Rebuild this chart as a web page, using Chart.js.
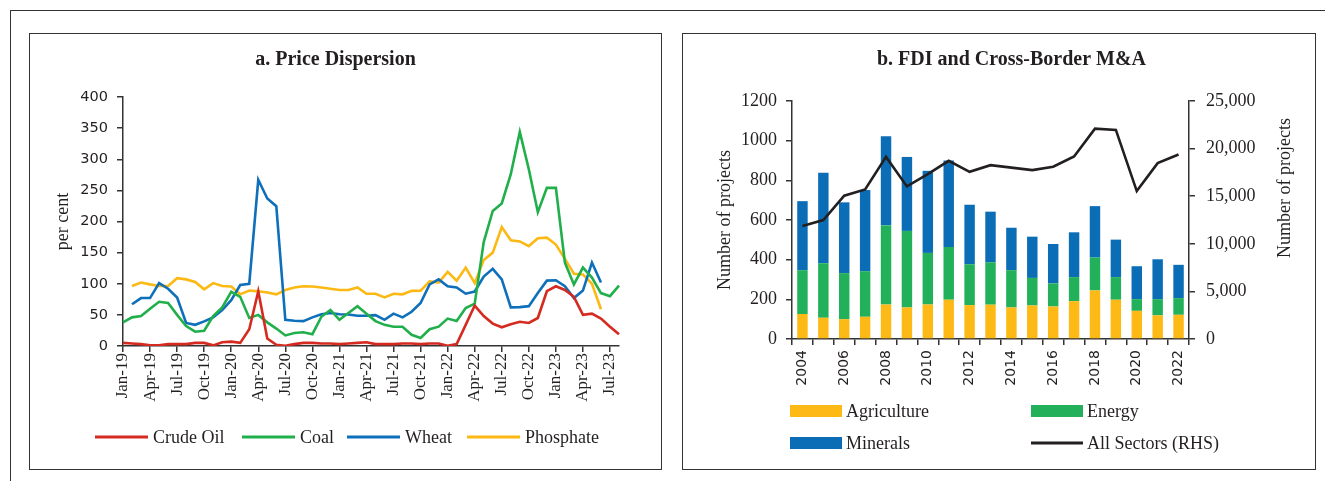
<!DOCTYPE html>
<html><head><meta charset="utf-8">
<script src="https://cdn.jsdelivr.net/npm/chart.js@4.4.0/dist/chart.umd.min.js"></script>
<style>
html,body{margin:0;padding:0;background:#fff;width:1325px;height:481px;overflow:hidden;}
#outer{position:absolute;left:10px;top:10px;width:1400px;height:600px;border:1.5px solid #333;box-sizing:border-box;}
.panel{position:absolute;top:33px;height:437px;border:1.5px solid #333;box-sizing:border-box;background:#fff;}
#pa{left:29px;width:633px;}
#pb{left:682px;width:634px;}
canvas{position:absolute;}
#ca{left:31px;top:35px;}
#cb{left:684px;top:35px;}
</style></head>
<body>
<div id="outer"></div>
<div class="panel" id="pa"></div>
<div class="panel" id="pb"></div>
<canvas id="ca" width="629" height="433"></canvas>
<canvas id="cb" width="630" height="433"></canvas>
<script>
// ---------- Panel a: Price Dispersion ----------
const months = ['Jan-19','Feb-19','Mar-19','Apr-19','May-19','Jun-19','Jul-19','Aug-19','Sep-19','Oct-19','Nov-19','Dec-19',
'Jan-20','Feb-20','Mar-20','Apr-20','May-20','Jun-20','Jul-20','Aug-20','Sep-20','Oct-20','Nov-20','Dec-20',
'Jan-21','Feb-21','Mar-21','Apr-21','May-21','Jun-21','Jul-21','Aug-21','Sep-21','Oct-21','Nov-21','Dec-21',
'Jan-22','Feb-22','Mar-22','Apr-22','May-22','Jun-22','Jul-22','Aug-22','Sep-22','Oct-22','Nov-22','Dec-22',
'Jan-23','Feb-23','Mar-23','Apr-23','May-23','Jun-23','Jul-23','Aug-23'];

const crudeOil = [5,4,3,1,1,3,3,3,5,5,1,6,7,5,27,88,12,2,0.5,3,5,5,4,4,3,
  4,5,6,3,3,3,4,4,3,4,4,0.5,3,34,65,48,36,30,35,39,37,45,88,96,90,79,50,52,44,31,19];
const coal = [38,46,48,60,71,69,50,32,23,24.5,48,62,87,79,45,50,38,28,17,21,22,19,47,58,42,
  53,64,52,40,34,31,31,18,13,27,31,44,40,61,68,167,217,229,276,344,284,215,254,254,134,99,126,110,85,80,97];
const wheat = [null,67,77,77,101,92,78,37,34,39.5,46,57.6,73.6,98,100,267,237,224.5,42,40.5,40,46,51,53,51,
  50.7,48.5,48.5,49.6,42,52,46,55,69,99,107,96,94,84,87.5,111.5,124,107,62,62.4,64,85,105,105.6,96,77,89,134,102,null,null];
const phosphate = [null,96.5,102,99,96.5,96.5,109,107,103,91,101,96.5,95.5,83,89,88,86,83,90,94,96,95.5,94,92,90,
  90,94,84,84,78,84,83,88.5,89,104,102,119,105,126,101,138,150,191,170,168,160.5,173,174,163,140,116,115,100,59,null,null];
const priceTicks = [0,50,100,150,200,250,300,350,400];

// ---------- Panel b: FDI and Cross-Border M&A ----------
const years = ['2004','2005','2006','2007','2008','2009','2010','2011','2012','2013','2014','2015','2016','2017','2018','2019','2020','2021','2022'];
const agriculture = [126,107,100,112,174,159,174,198,171,173,159,169,164,191,245,198,142,119,122];
const energy = [221,275,232,230,399,386,260,266,206,214,188,139,116,121,166,114,59,82,84];
const minerals = [348,456,357,409,449,373,414,436,300,255,214,208,199,226,259,189,166,201,168];
const allSectors = [11870,12500,15050,15710,19130,16030,17320,18720,17560,18260,18000,17740,18090,19170,22100,21960,15540,18470,19380];

const TXT = '#231F20';
const AX = '#333333';
const SERIF = 'Liberation Serif';

const fixedLegend = {
  id: 'fixedLegend',
  afterDraw(chart, args, o) {
    const ctx = chart.ctx;
    ctx.save();
    ctx.font = o.font;
    ctx.textBaseline = 'middle';
    ctx.textAlign = 'left';
    o.items.forEach(it => {
      const ds = chart.data.datasets[it.dataset];
      if (it.type === 'line') {
        ctx.strokeStyle = ds.borderColor;
        ctx.lineWidth = o.lineWidth;
        ctx.beginPath();
        ctx.moveTo(it.x, it.y);
        ctx.lineTo(it.x + o.boxWidth, it.y);
        ctx.stroke();
      } else {
        ctx.fillStyle = ds.backgroundColor;
        ctx.fillRect(it.x, it.y - o.boxHeight / 2, o.boxWidth, o.boxHeight);
      }
      ctx.fillStyle = TXT;
      ctx.fillText(ds.label, it.x + o.boxWidth + o.gap, it.y + 1);
    });
    if (o.rightTitle) {
      const rt = o.rightTitle;
      ctx.translate(rt.x, rt.y);
      ctx.rotate(-Math.PI / 2);
      ctx.textAlign = 'center';
      ctx.fillStyle = TXT;
      ctx.font = rt.font;
      ctx.fillText(rt.text, 0, 0);
    }
    ctx.restore();
  }
};

Chart.defaults.color = TXT;
Chart.defaults.animation = false;

new Chart(document.getElementById('ca'), {
  type: 'line',
  data: {
    labels: months,
    datasets: [
      {label: 'Crude Oil', data: crudeOil, borderColor: '#D52A20'},
      {label: 'Coal', data: coal, borderColor: '#21AF4B'},
      {label: 'Wheat', data: wheat, borderColor: '#0E6FBA'},
      {label: 'Phosphate', data: phosphate, borderColor: '#FDB913'}
    ].map(d => Object.assign(d, {borderWidth: 2.6, pointRadius: 0, tension: 0, fill: false}))
  },
  options: {
    responsive: false, devicePixelRatio: 1,
    layout: {padding: {left: 21, right: 41, top: 0, bottom: 20}},
    plugins: {
      legend: {display: false},
      tooltip: {enabled: false},
      title: {display: true, text: 'a. Price Dispersion', color: TXT,
        font: {family: SERIF, size: 20, weight: 'bold'}, padding: {top: 13, bottom: 25}},
      fixedLegend: {
        font: '18px "Liberation Serif"', boxWidth: 53, boxHeight: 3, gap: 5, lineWidth: 3,
        items: [
          {dataset: 0, type: 'line', x: 64, y: 402},
          {dataset: 1, type: 'line', x: 211, y: 402},
          {dataset: 2, type: 'line', x: 316, y: 402},
          {dataset: 3, type: 'line', x: 436, y: 402}
        ]
      }
    },
    scales: {
      x: {
        type: 'category', offset: false,
        grid: {drawOnChartArea: false, drawTicks: true, tickLength: 6, lineWidth: 1.5,
          color: c => (c.index % 3 === 0 ? AX : 'rgba(0,0,0,0)')},
        border: {display: true, color: AX, width: 1.5},
        ticks: {autoSkip: false, maxRotation: 90, minRotation: 90, padding: 1, color: TXT,
          font: {family: SERIF, size: 17},
          callback: (v, i) => (i % 3 === 0 ? months[i] : '')},
        afterFit: s => { s.height = 102; }
      },
      y: {
        min: 0, max: 400,
        afterBuildTicks: s => { s.ticks = priceTicks.map(v => ({value: v})); },
        grid: {drawOnChartArea: false, drawTicks: true, tickLength: 6, lineWidth: 1.5, color: AX},
        border: {display: true, color: AX, width: 1.5},
        ticks: {padding: 9, color: TXT, font: {family: 'DejaVu Sans', size: 14.5}},
        title: {display: true, text: 'per cent', color: TXT, font: {family: SERIF, size: 18}, padding: 0},
        afterFit: s => { s.width = 71; }
      }
    }
  },
  plugins: [fixedLegend]
});

new Chart(document.getElementById('cb'), {
  type: 'bar',
  data: {
    labels: years,
    datasets: [
      {label: 'Agriculture', data: agriculture, backgroundColor: '#FDBA16', yAxisID: 'y', order: 2, stack: 's'},
      {label: 'Energy', data: energy, backgroundColor: '#22B05A', yAxisID: 'y', order: 2, stack: 's'},
      {label: 'Minerals', data: minerals, backgroundColor: '#0C6DB7', yAxisID: 'y', order: 2, stack: 's'},
      {label: 'All Sectors (RHS)', data: allSectors, type: 'line', borderColor: '#231F20', backgroundColor: '#231F20',
        borderWidth: 2.6, pointRadius: 0, tension: 0, yAxisID: 'y1', order: 0}
    ]
  },
  options: {
    responsive: false, devicePixelRatio: 1,
    layout: {padding: {left: 30, right: 5, top: 0, bottom: 20}},
    datasets: {bar: {barPercentage: 0.5, categoryPercentage: 1}},
    plugins: {
      legend: {display: false},
      tooltip: {enabled: false},
      title: {display: true, text: 'b. FDI and Cross-Border M&A', color: TXT,
        font: {family: SERIF, size: 20, weight: 'bold'}, padding: {top: 13, bottom: 29}},
      fixedLegend: {
        font: '18px "Liberation Serif"', boxWidth: 52, boxHeight: 12, gap: 4, lineWidth: 3,
        items: [
          {dataset: 0, type: 'box', x: 106, y: 376},
          {dataset: 1, type: 'box', x: 347, y: 376},
          {dataset: 2, type: 'box', x: 106, y: 408},
          {dataset: 3, type: 'line', x: 347, y: 408}
        ],
        rightTitle: {text: 'Number of projects', x: 601, y: 153, font: '18px "Liberation Serif"'}
      }
    },
    scales: {
      x: {
        stacked: true, offset: true,
        grid: {drawOnChartArea: false, drawTicks: true, tickLength: 6, lineWidth: 1.5, color: AX, offset: true},
        border: {display: true, color: AX, width: 1.5},
        ticks: {autoSkip: false, maxRotation: 90, minRotation: 90, padding: 5, color: TXT,
          font: {family: 'DejaVu Sans', size: 14},
          callback: (v, i) => (i % 2 === 0 ? years[i] : '')},
        afterFit: s => { s.height = 109; }
      },
      y: {
        stacked: true, min: 0, max: 1200, position: 'left',
        ticks: {stepSize: 200, padding: 9, color: TXT, font: {family: SERIF, size: 18},
          callback: v => String(v)},
        grid: {drawOnChartArea: false, drawTicks: true, tickLength: 6, lineWidth: 1.5, color: AX},
        border: {display: true, color: AX, width: 1.5},
        title: {display: true, text: 'Number of projects', color: TXT, font: {family: SERIF, size: 18}, padding: 0},
        afterFit: s => { s.width = 78; }
      },
      y1: {
        min: 0, max: 25000, position: 'right', stacked: false,
        ticks: {stepSize: 5000, padding: 11, color: TXT, font: {family: SERIF, size: 18},
          callback: v => v.toLocaleString('en-US')},
        grid: {drawOnChartArea: false, drawTicks: true, tickLength: 6, lineWidth: 1.5, color: AX},
        border: {display: true, color: AX, width: 1.5},
        afterFit: s => { s.width = 120; }
      }
    }
  },
  plugins: [fixedLegend]
});
</script>
</body></html>
